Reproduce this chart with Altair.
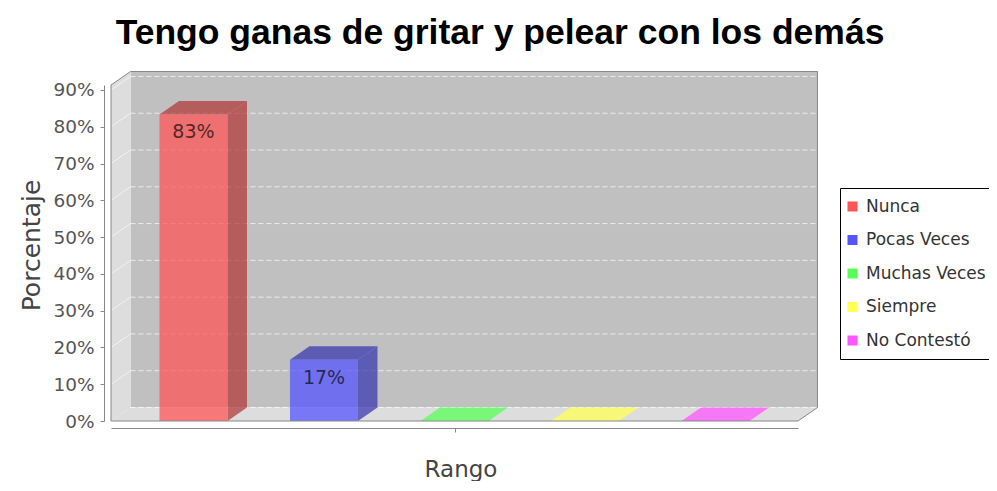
import altair as alt
import pandas as pd

# ---- data ----
series = ["Nunca", "Pocas Veces", "Muchas Veces", "Siempre", "No Contestó"]
values = [83.33, 16.67, 0.0, 0.0, 0.0]
value_labels = ["83%", "17%", "", "", ""]
base_colors = ["#ff5555", "#5555ff", "#55ff55", "#ffff55", "#ff55ff"]
dark_colors = ["#b23b3b", "#3b3bb2", "#3bb23b", "#b2b23b", "#b23bb2"]
y_ticks = [0, 10, 20, 30, 40, 50, 60, 70, 80, 90]
title_text = "Tengo ganas de gritar y pelear con los demás"

# ---- geometry (scale units) ----
W, H = 687, 336
YMAX = 91.35
XMIN, XMAX = -0.632, 4.632
HW = 0.2605          # half bar width (category units)
DX = 0.1494          # 3D depth in x (category units)
DY = 3.67            # 3D depth in y (percent units)
ALPHA = 0.75

xs = alt.Scale(domain=[XMIN, XMAX], nice=False, zero=False)
ys = alt.Scale(domain=[0, YMAX], nice=False, zero=False)

XA = alt.Axis(
    values=[2], labels=False, tickSize=4, tickColor="#888888", domainColor="#888888",
    offset=7, grid=False, title="Rango", titleFontSize=23, titleFont="DejaVu Sans",
    titleFontWeight="normal", titleColor="#444444", titleX=349.5, titleY=48,
    titleBaseline="alphabetic", titleAlign="center")
YA = alt.Axis(
    values=y_ticks, labelExpr="datum.value + '%'", tickSize=4, tickColor="#888888",
    domainColor="#888888", offset=7, grid=False, labelFontSize=18.5,
    labelFont="DejaVu Sans", labelColor="#555555", labelPadding=6,
    title="Porcentaje", titleFontSize=25, titleFont="DejaVu Sans",
    titleFontWeight="normal", titleColor="#444444", titleAngle=-90,
    titleX=-73, titleY=160, titleBaseline="middle", titleAlign="center")


def X(f):
    return alt.X(f, scale=xs, axis=XA)


def Y(f):
    return alt.Y(f, scale=ys, axis=YA)


# back wall
back = pd.DataFrame([{"x": XMIN + DX, "x2": XMAX + DX, "y": DY, "y2": YMAX + DY}])
back_layer = alt.Chart(back).mark_rect(color="#c0c0c0").encode(
    x=X("x:Q"), x2="x2:Q", y=Y("y:Q"), y2="y2:Q",
)

# left wall and floor (parallelograms)
walls_rows = []
for xv, yv, y2v in [(XMIN, YMAX, 0), (XMIN + DX, YMAX + DY, DY)]:
    walls_rows.append({"part": "left", "x": xv, "y": yv, "y2": y2v})
for xv, yv, y2v in [(XMIN, 0, 0), (XMIN + DX, DY, 0), (XMAX, DY, 0), (XMAX + DX, DY, DY)]:
    walls_rows.append({"part": "floor", "x": xv, "y": yv, "y2": y2v})
walls = pd.DataFrame(walls_rows)
walls_layer = alt.Chart(walls).mark_area(color="#dddddd", orient="vertical").encode(
    x=X("x:Q"), y=Y("y:Q"), y2="y2:Q", detail="part:N",
)

# gridlines on back wall and left wall
grid = pd.DataFrame({"t": y_ticks})
grid["x"] = XMIN + DX
grid["x2"] = XMAX + DX
grid["y"] = grid["t"] + DY
grid_back = alt.Chart(grid).mark_rule(color="#ffffff", strokeDash=[5, 3], opacity=0.7, strokeWidth=1).encode(
    x=X("x:Q"), x2="x2:Q", y=Y("y:Q")
)
gl = pd.DataFrame({"t": y_ticks[1:]})
gl["x"] = XMIN
gl["x2"] = XMIN + DX
gl["y"] = gl["t"]
gl["y2"] = gl["t"] + DY
grid_left = alt.Chart(gl).mark_rule(color="#ffffff", opacity=0.6, strokeWidth=1).encode(
    x=X("x:Q"), x2="x2:Q", y=Y("y:Q"), y2="y2:Q"
)

# bar faces
side_rows, top_rows, front_rows = [], [], []
for i, (s, v, bc, dc, lab) in enumerate(zip(series, values, base_colors, dark_colors, value_labels)):
    l, r = i - HW, i + HW
    if v > 0:
        side_rows += [
            {"series": s, "fill": dc, "x": r, "y": v, "y2": 0},
            {"series": s, "fill": dc, "x": r + DX, "y": v + DY, "y2": DY},
        ]
    tc = dc if v > 0 else bc
    for xv, yv, y2v in [(l, v, v), (l + DX, v + DY, v), (r, v + DY, v), (r + DX, v + DY, v + DY)]:
        top_rows.append({"series": s, "fill": tc, "x": xv, "y": yv, "y2": y2v})
    front_rows.append({"series": s, "x": l, "x2": r, "y": 0, "y2": v, "xc": i, "label": lab})

side_layer = alt.Chart(pd.DataFrame(side_rows)).mark_area(orient="vertical", opacity=ALPHA).encode(
    x=X("x:Q"), y=Y("y:Q"), y2="y2:Q",
    fill=alt.Fill("fill:N", scale=None), detail="series:N",
)
top_layer = alt.Chart(pd.DataFrame(top_rows)).mark_area(orient="vertical", opacity=ALPHA).encode(
    x=X("x:Q"), y=Y("y:Q"), y2="y2:Q",
    fill=alt.Fill("fill:N", scale=None), detail="series:N",
)
front = pd.DataFrame(front_rows)
front_layer = alt.Chart(front).mark_rect(opacity=ALPHA).encode(
    x=X("x:Q"), x2="x2:Q", y=Y("y:Q"), y2="y2:Q",
    color=alt.Color("series:N", scale=alt.Scale(domain=series, range=base_colors),
                    legend=alt.Legend(orient="none", legendX=729, legendY=103, title=None,
                                      symbolType="square", symbolSize=100, symbolOpacity=1,
                                      symbolStrokeWidth=0, symbolOffset=-6, labelFontSize=17,
                                      labelFont="DejaVu Sans", labelColor="#333333",
                                      rowPadding=15.5, labelOffset=5, padding=10,
                                      strokeColor="#000000", fillColor="#ffffff",
                                      labelLimit=300)),
)
text_layer = alt.Chart(front[front["label"] != ""]).mark_text(
    baseline="top", dy=9, fontSize=19, font="DejaVu Sans", color="#000000", opacity=0.65
).encode(
    x=X("xc:Q"), y=Y("y2:Q"), text="label:N"
)

# outline of the 3D box
outline = pd.DataFrame([
    {"o": 0, "x": XMIN, "y": 0},
    {"o": 1, "x": XMAX, "y": 0},
    {"o": 2, "x": XMAX + DX, "y": DY},
    {"o": 3, "x": XMAX + DX, "y": YMAX + DY},
    {"o": 4, "x": XMIN + DX, "y": YMAX + DY},
    {"o": 5, "x": XMIN, "y": YMAX},
    {"o": 6, "x": XMIN, "y": 0},
])
outline_layer = alt.Chart(outline).mark_line(color="#888888", strokeWidth=1).encode(
    x=X("x:Q"), y=Y("y:Q"), order="o:Q"
)

chart = alt.layer(
    back_layer, walls_layer, grid_back, grid_left, side_layer, top_layer,
    front_layer, text_layer, outline_layer,
).properties(
    width=W, height=H,
    title=alt.Title(title_text, font="Liberation Sans", fontSize=35.5, fontWeight="bold",
                    color="#000000", anchor="middle", frame="group", dx=45.5, offset=18),
    padding={"left": 103, "top": 77, "right": 191, "bottom": 60},
    autosize=alt.AutoSizeParams(type="none"),
    background="#ffffff",
).configure_view(stroke=None)

chart.save("out.html", embed_options={"renderer": "svg", "actions": False})
